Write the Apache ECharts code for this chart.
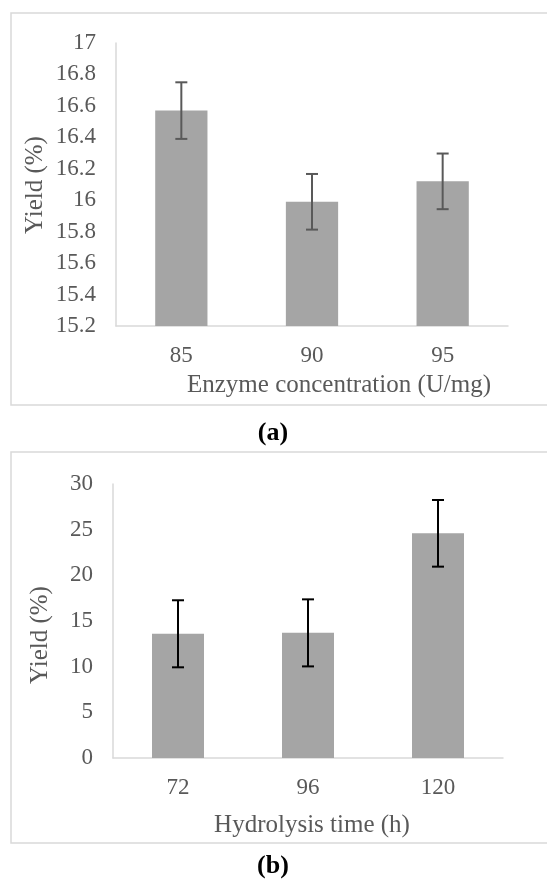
<!DOCTYPE html>
<html>
<head>
<meta charset="utf-8">
<script src="https://cdn.jsdelivr.net/npm/echarts@6/dist/echarts.min.js"></script>
<style>
html,body{margin:0;padding:0;background:#fff;}
#chart{width:547px;height:881px;}
</style>
</head>
<body>
<div id="chart"></div>
<script>
// Panel (a)
const catsA = ['85', '90', '95'];
const valsA = [16.57, 15.99, 16.12];
const errA = [0.18, 0.177, 0.177];
const xNameA = 'Enzyme concentration (U/mg)';
// Panel (b)
const catsB = ['72', '96', '120'];
const valsB = [13.6, 13.7, 24.6];
const errB = [3.67, 3.67, 3.65];
const xNameB = 'Hydrolysis time (h)';
const yName = 'Yield (%)';

const FONT = 'Liberation Serif';
const TXT = '#595959';
const AXC = '#d9d9d9';

function errSeries(xi, yi, cats, vals, errs, color) {
  return {
    type: 'custom',
    xAxisIndex: xi, yAxisIndex: yi,
    data: cats.map((c, i) => [i, vals[i] - errs[i], vals[i] + errs[i]]),
    renderItem: function (params, api) {
      const lo = api.coord([api.value(0), api.value(1)]);
      const hi = api.coord([api.value(0), api.value(2)]);
      const hw = 6;
      const st = {stroke: color, lineWidth: 2};
      return {
        type: 'group',
        children: [
          {type: 'line', shape: {x1: lo[0], y1: lo[1], x2: hi[0], y2: hi[1]}, style: st},
          {type: 'line', shape: {x1: lo[0] - hw, y1: lo[1], x2: lo[0] + hw, y2: lo[1]}, style: st},
          {type: 'line', shape: {x1: hi[0] - hw, y1: hi[1], x2: hi[0] + hw, y2: hi[1]}, style: st}
        ]
      };
    },
    z: 10
  };
}

const chart = echarts.init(document.getElementById('chart'), null, {renderer: 'canvas'});
const axisLabel = {color: TXT, fontFamily: FONT, fontSize: 23};

function txt(text, x, y, size, rot, color, weight) {
  return {type: 'text', x: x, y: y, rotation: rot || 0,
    style: {text: text, fill: color || TXT, fontFamily: FONT, fontSize: size,
            fontWeight: weight || 'normal', align: 'center', verticalAlign: 'middle'}};
}

chart.setOption({
  animation: false,
  backgroundColor: '#fff',
  textStyle: {fontFamily: FONT},
  grid: [
    {left: 116, width: 392, top: 43, height: 283},
    {left: 113, width: 390, top: 484, height: 274}
  ],
  xAxis: [
    {type: 'category', gridIndex: 0, data: catsA,
     axisLine: {lineStyle: {color: AXC, width: 1.5}}, axisTick: {show: false},
     axisLabel: Object.assign({margin: 18}, axisLabel)},
    {type: 'category', gridIndex: 1, data: catsB,
     axisLine: {lineStyle: {color: AXC, width: 1.5}}, axisTick: {show: false},
     axisLabel: Object.assign({margin: 18}, axisLabel)}
  ],
  yAxis: [
    {type: 'value', gridIndex: 0, min: 15.2, max: 17, interval: 0.2,
     axisLine: {show: true, lineStyle: {color: AXC, width: 1.5}}, axisTick: {show: false},
     splitLine: {show: false},
     axisLabel: Object.assign({margin: 20, formatter: v => String(Math.round(v * 10) / 10)}, axisLabel)},
    {type: 'value', gridIndex: 1, min: 0, max: 30, interval: 5,
     axisLine: {show: true, lineStyle: {color: AXC, width: 1.5}}, axisTick: {show: false},
     splitLine: {show: false},
     axisLabel: Object.assign({margin: 20}, axisLabel)}
  ],
  series: [
    {type: 'bar', xAxisIndex: 0, yAxisIndex: 0, data: valsA, barWidth: '40%',
     itemStyle: {color: '#a5a5a5'}},
    errSeries(0, 0, catsA, valsA, errA, '#595959'),
    {type: 'bar', xAxisIndex: 1, yAxisIndex: 1, data: valsB, barWidth: '40%',
     itemStyle: {color: '#a5a5a5'}},
    errSeries(1, 1, catsB, valsB, errB, '#000000')
  ],
  graphic: [
    {type: 'rect', shape: {x: 11, y: 13, width: 560, height: 392},
     style: {fill: 'none', stroke: AXC, lineWidth: 1.5}, z: -1, silent: true},
    {type: 'rect', shape: {x: 11, y: 452, width: 560, height: 391},
     style: {fill: 'none', stroke: AXC, lineWidth: 1.5}, z: -1, silent: true},
    txt(yName, 35, 185, 25, Math.PI / 2),
    txt(yName, 40, 635, 25, Math.PI / 2),
    txt(xNameA, 339, 385, 25),
    txt(xNameB, 312, 825, 25),
    txt('(a)', 273, 433, 26, 0, '#000', 'bold'),
    txt('(b)', 273, 866, 26, 0, '#000', 'bold')
  ]
});
</script>
</body>
</html>
